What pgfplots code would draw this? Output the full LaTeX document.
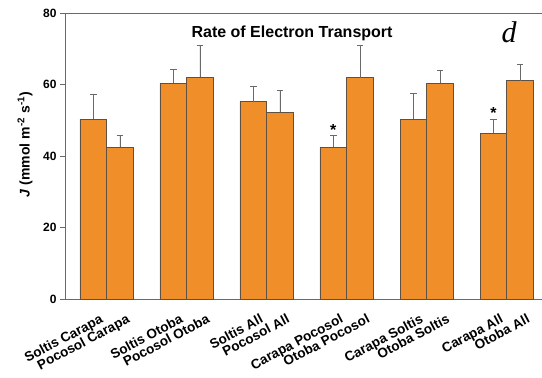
\documentclass[border=0pt]{standalone}
\usepackage{pgfplots}
\pgfplotsset{compat=1.18}
\usepackage{fontspec}
\setmainfont{Liberation Sans}
\newfontfamily\serifit{Liberation Serif}
\definecolor{barorange}{RGB}{240,142,42}
\definecolor{baredge}{RGB}{95,80,65}
\definecolor{axgray}{RGB}{105,105,105}
\pgfplotstableread{
x y e
-0.1667 50.3 7.0
0.1667 42.4 3.5
0.8333 60.3 3.8
1.1667 62.0 9.0
1.8333 55.2 4.4
2.1667 52.2 6.1
2.8333 42.4 3.4
3.1667 61.9 9.1
3.8333 50.3 7.1
4.1667 60.3 3.7
4.8333 46.3 4.0
5.1667 61.1 4.4
}\jdata
\begin{document}
\begin{tikzpicture}
\begin{axis}[
  at={(0,0)}, anchor=south west,
  scale only axis, width=477pt, height=286pt,
  xmin=-0.52, xmax=5.441, ymin=0, ymax=80,
  axis lines=left,
  axis line style={-, axgray, line width=0.8pt},
  ytick={0,20,40,60,80},
  tick align=outside,
  major tick length=5pt,
  y tick style={axgray, line width=0.8pt},
  /pgf/number format/assume math mode=true,
  y tick label style={font=\bfseries\fontsize{12}{12}\selectfont},
  xtick={-0.1667,0.1667,0.8333,1.1667,1.8333,2.1667,2.8333,3.1667,3.8333,4.1667,4.8333,5.1667},
  xticklabels={Soltis Carapa,Pocosol Carapa,Soltis Otoba,Pocosol Otoba,Soltis All,Pocosol All,Carapa Pocosol,Otoba Pocosol,Carapa Soltis,Otoba Soltis,Carapa All,Otoba All},
  x tick style={draw=none},
  xticklabel style={rotate=28, anchor=north east, font=\bfseries\fontsize{13.5}{13.5}\selectfont, inner sep=1pt, xshift=2pt, yshift=-10pt},
  ylabel={\textit{J} (mmol m\textsuperscript{-2} s\textsuperscript{-1})},
  ylabel style={font=\bfseries\fontsize{14}{14}\selectfont, at={(axis description cs:-0.084,0.54)}, anchor=center},
  clip=false,
]
\addplot[ybar, bar width=0.3333, bar shift=0pt, fill=barorange, draw=baredge, line width=0.7pt,
  error bars/.cd, y dir=plus, y explicit,
  error bar style={axgray, line width=0.8pt},
  error mark options={rotate=90, mark size=3.3pt, axgray, line width=0.8pt}]
  table[x=x, y=y, y error=e] {\jdata};
\draw[axgray, line width=0.8pt] (rel axis cs:0,1) -- (rel axis cs:1,1);
\node[font=\bfseries\fontsize{16}{16}\selectfont] at (rel axis cs:0.476,0.93) {Rate of Electron Transport};
\node[font=\serifit\itshape\fontsize{30}{30}\selectfont] at (rel axis cs:0.931,0.934) {d};
\node[font=\bfseries\fontsize{16}{16}\selectfont, yshift=-3pt] at (axis cs:2.8333,48.2) {*};
\node[font=\bfseries\fontsize{16}{16}\selectfont, yshift=-3pt] at (axis cs:4.8333,52.9) {*};
\end{axis}
\pgfresetboundingbox
\path (-65pt,-79pt) rectangle (477pt,299pt);
\end{tikzpicture}
\end{document}
